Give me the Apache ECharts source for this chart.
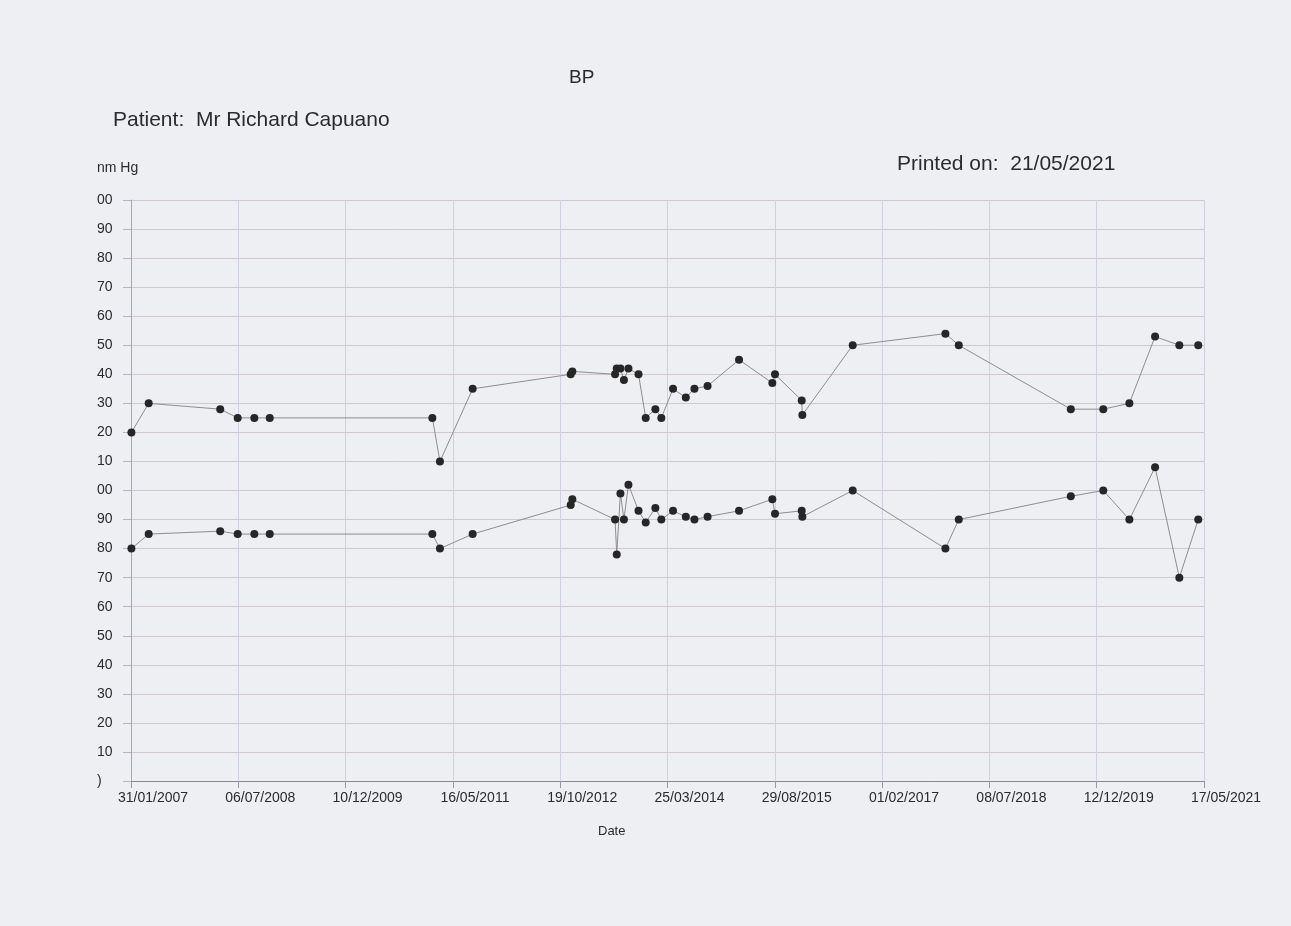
<!DOCTYPE html>
<html>
<head>
<meta charset="utf-8">
<script src="https://cdn.jsdelivr.net/npm/echarts@6/dist/echarts.min.js"></script>
<style>
  html, body { margin: 0; padding: 0; background: #edeff2; }
  #chart { width: 1291px; height: 926px; }
</style>
</head>
<body>
<div id="chart"></div>
<script>
// 판독 날짜(읽은 값) — 수축기/이완기 공통 x
const readingDates = [
  "2007-02-02", "2007-04-27", "2008-04-09", "2008-07-03", "2008-09-22", "2008-12-06",
  "2011-02-05", "2011-03-14", "2011-08-20", "2012-12-09", "2012-12-17",
  "2013-07-13", "2013-07-21", "2013-08-08", "2013-08-25", "2013-09-16",
  "2013-11-04", "2013-12-09", "2014-01-25", "2014-02-23", "2014-04-21",
  "2014-06-22", "2014-08-03", "2014-10-06", "2015-03-08", "2015-08-17",
  "2015-08-30", "2016-01-07", "2016-01-10", "2016-09-11", "2017-12-06",
  "2018-02-09", "2019-08-08", "2020-01-13", "2020-05-19", "2020-09-21",
  "2021-01-17", "2021-04-19"
];
const systolic = [
  120, 130, 128, 125, 125, 125,
  125, 110, 135, 140, 141,
  140, 142, 142, 138, 142,
  140, 125, 128, 125, 135,
  132, 135, 136, 145, 137,
  140, 131, 126, 150, 154,
  150, 128, 128, 130, 153,
  150, 150
];
const diastolic = [
  80, 85, 86, 85, 85, 85,
  85, 80, 85, 95, 97,
  90, 78, 99, 90, 102,
  93, 89, 94, 90, 93,
  91, 90, 91, 93, 97,
  92, 93, 91, 100, 80,
  90, 98, 100, 90, 108,
  70, 90
];
// 인쇄본에 보이는 그대로의 눈금 라벨(왼쪽이 잘림)
const yTickLabels = [")", "10", "20", "30", "40", "50", "60", "70", "80", "90",
  "00", "10", "20", "30", "40", "50", "60", "70", "80", "90", "00"];
const xTickLabels = ["31/01/2007", "06/07/2008", "10/12/2009", "16/05/2011", "19/10/2012",
  "25/03/2014", "29/08/2015", "01/02/2017", "08/07/2018", "12/12/2019", "17/05/2021"];
const axisStart = "2007-01-31";
const tickDays = 522;

const DAY = 86400000;
const t0 = Date.parse(axisStart + "T00:00:00Z");
const dayOf = (d) => Math.round((Date.parse(d + "T00:00:00Z") - t0) / DAY);
const pairs = (vals) => readingDates.map((d, i) => [dayOf(d), vals[i]]);

const font = "'Liberation Sans', Arial, sans-serif";
const ink = "#2b2b2b";
const txt = (size) => ({ fontFamily: font, fontSize: size, fontWeight: "normal", color: ink });

const chart = echarts.init(document.getElementById("chart"), null, { renderer: "canvas" });

const lineStyle = { color: "#8d8d8d", width: 1 };
const dot = { color: "#262626" };

chart.setOption({
  animation: false,
  backgroundColor: "#edeff2",
  textStyle: { fontFamily: font },
  title: [
    { text: "BP", left: 569, top: 68, padding: 0, textStyle: txt(19) },
    { text: "Patient:  Mr Richard Capuano", left: 113, top: 110, padding: 0, textStyle: txt(21) },
    { text: "Printed on:  21/05/2021", left: 897, top: 154, padding: 0, textStyle: txt(21) },
    { text: "nm Hg", left: 97, top: 161, padding: 0, textStyle: txt(14) },
    { text: "Date", left: 598, top: 825, padding: 0, textStyle: txt(13) }
  ],
  grid: { left: 131, right: 87, top: 200, bottom: 145, containLabel: false },
  xAxis: {
    type: "value",
    min: 0,
    max: tickDays * (xTickLabels.length - 1),
    interval: tickDays,
    axisLine: { show: true, lineStyle: { color: "#8a8a8a", width: 1 } },
    axisTick: { show: true, length: 7, lineStyle: { color: "#9a9a9a" } },
    axisLabel: {
      color: ink, fontSize: 14, margin: 10, padding: [0, 0, 0, 44],
      formatter: (v) => xTickLabels[Math.round(v / tickDays)] || ""
    },
    splitLine: { show: true, lineStyle: { color: "#d2cfe0", width: 1 } }
  },
  yAxis: {
    type: "value",
    min: 0,
    max: 200,
    interval: 10,
    axisLine: { show: true, lineStyle: { color: "#aaa3c8", width: 1 } },
    axisTick: { show: true, length: 8, lineStyle: { color: "#b8b3c4" } },
    axisLabel: {
      color: ink, fontSize: 14, margin: 34, align: "left",
      formatter: (v) => yTickLabels[Math.round(v / 10)] ?? ""
    },
    splitLine: { show: true, lineStyle: { color: "#cfc8d0", width: 1 } }
  },
  series: [
    {
      name: "Systolic", type: "line", data: pairs(systolic),
      symbol: "circle", symbolSize: 8, showSymbol: true,
      lineStyle, itemStyle: dot
    },
    {
      name: "Diastolic", type: "line", data: pairs(diastolic),
      symbol: "circle", symbolSize: 8, showSymbol: true,
      lineStyle, itemStyle: dot
    }
  ]
});
</script>
</body>
</html>
